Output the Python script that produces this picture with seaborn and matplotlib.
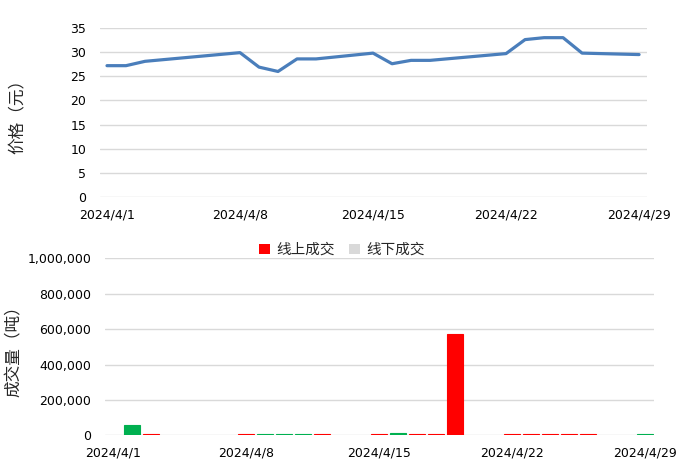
import pandas as pd
import matplotlib.pyplot as plt
import seaborn as sns
from matplotlib.patches import Patch
from matplotlib.ticker import FuncFormatter

# price (yuan), daily
price_dates = ["2024/4/1", "2024/4/2", "2024/4/3", "2024/4/8", "2024/4/9", "2024/4/10",
               "2024/4/11", "2024/4/12", "2024/4/15", "2024/4/16", "2024/4/17", "2024/4/18",
               "2024/4/22", "2024/4/23", "2024/4/24", "2024/4/25", "2024/4/26", "2024/4/29"]
price_values = [27.2, 27.2, 28.1, 29.9, 26.9, 26.0,
                28.6, 28.6, 29.8, 27.6, 28.3, 28.3,
                29.7, 32.6, 33.0, 33.0, 29.8, 29.5]

# volume (tons)
vol_dates = ["2024/4/2", "2024/4/3", "2024/4/8", "2024/4/9", "2024/4/10", "2024/4/11",
             "2024/4/12", "2024/4/15", "2024/4/16", "2024/4/17", "2024/4/18", "2024/4/19",
             "2024/4/22", "2024/4/23", "2024/4/24", "2024/4/25", "2024/4/26", "2024/4/29"]
vol_values = [58000, 8000, 8000, 8000, 8000, 8000,
              8000, 8000, 15000, 8000, 8000, 572000,
              8000, 8000, 8000, 8000, 8000, 9000]
vol_kind = ["green", "red", "red", "green", "green", "green",
            "red", "red", "green", "red", "red", "red",
            "red", "red", "red", "red", "red", "green"]

tick_labels = ["2024/4/1", "2024/4/8", "2024/4/15", "2024/4/22", "2024/4/29"]
legend_labels = ["线上成交", "线下成交"]

price_df = pd.DataFrame({"date": pd.to_datetime(price_dates, format="%Y/%m/%d"), "price": price_values})
price_df["day"] = price_df["date"].dt.day
vol_df = pd.DataFrame({"date": pd.to_datetime(vol_dates, format="%Y/%m/%d"), "volume": vol_values, "kind": vol_kind})
vol_df["day"] = vol_df["date"].dt.day
tick_days = pd.to_datetime(tick_labels, format="%Y/%m/%d").day

sns.set_style("white")
plt.rcParams["font.family"] = ["DejaVu Sans", "Noto Sans CJK SC"]

fig = plt.figure(figsize=(6.8, 4.74), dpi=100)
ax1 = fig.add_axes([0.147, 0.5844, 0.804, 0.3565])
ax2 = fig.add_axes([0.1544, 0.0816, 0.807, 0.3734])

grid_color = "#D9D9D9"

# price line
sns.lineplot(data=price_df, x="day", y="price", ax=ax1, color="#4A7EBB", linewidth=2.3)
ax1.set_xlim(0.63, 29.4)
ax1.set_ylim(0, 35)
ax1.set_yticks(range(0, 36, 5))
ax1.set_xticks(tick_days)
ax1.set_xticklabels(tick_labels)
ax1.set_xlabel("")
ax1.set_ylabel("价格（元）", fontsize=12)
ax1.yaxis.set_label_coords(-0.135, 0.5)

# volume bars
sns.barplot(data=vol_df, x="day", y="volume", hue="kind", ax=ax2, native_scale=True,
            palette={"red": "#FF0000", "green": "#00B050"}, dodge=False, width=0.87,
            legend=False, saturation=1)
# thin edge in the bar's own colour so the tiny bars stay visible
for p in ax2.patches:
    p.set_edgecolor(p.get_facecolor())
    p.set_linewidth(0.8)
    p.set_zorder(3)
ax2.set_xlim(0.58, 29.47)
ax2.set_ylim(0, 1000000)
ax2.set_yticks(range(0, 1000001, 200000))
ax2.yaxis.set_major_formatter(FuncFormatter(lambda v, p: f"{v:,.0f}"))
ax2.set_xticks(tick_days)
ax2.set_xticklabels(tick_labels)
ax2.set_xlabel("")
ax2.set_ylabel("成交量（吨）", fontsize=12)
ax2.yaxis.set_label_coords(-0.149, 0.5)

handles = [Patch(facecolor="#FF0000", edgecolor="none"), Patch(facecolor="#D9D9D9", edgecolor="none")]
ax2.legend(handles, legend_labels, loc="center", bbox_to_anchor=(0.432, 1.05), ncol=2,
           frameon=False, fontsize=10.5, handlelength=0.75, handleheight=0.75,
           handletextpad=0.4, columnspacing=1.0)

for ax in (ax1, ax2):
    ax.grid(axis="y", color=grid_color, linewidth=1)
    ax.set_axisbelow(True)
    for s in ax.spines.values():
        s.set_visible(False)
    ax.tick_params(axis="both", length=0, labelsize=9, colors="black")
    ax.tick_params(axis="x", pad=8)
    ax.tick_params(axis="y", pad=10)

fig.savefig("out.png", dpi=100)
